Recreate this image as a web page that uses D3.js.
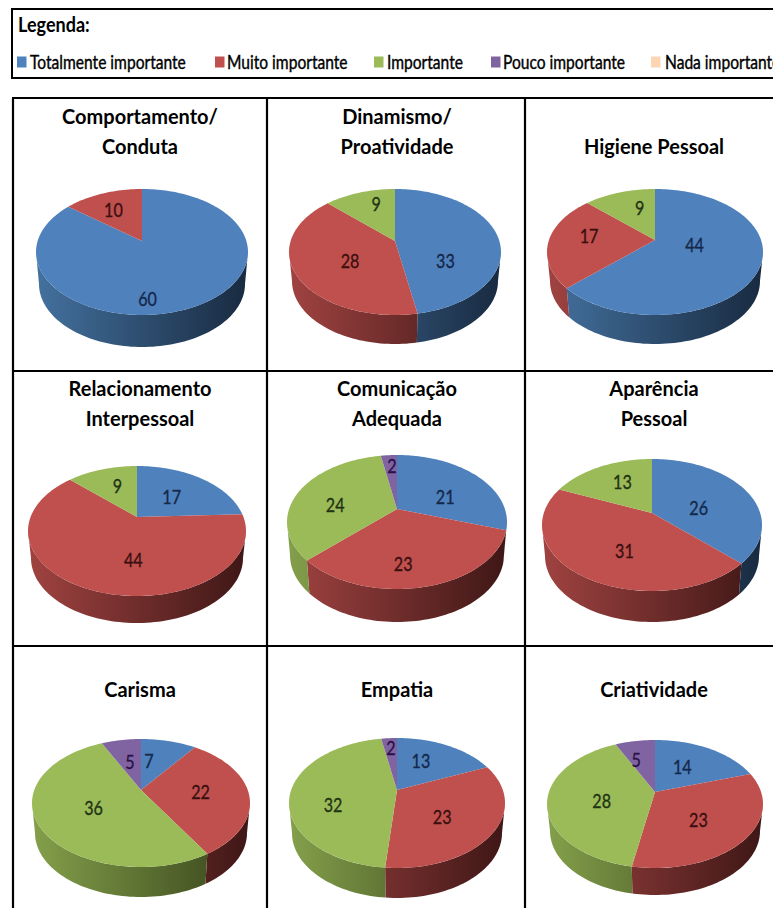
<!DOCTYPE html>
<html lang="pt">
<head>
<meta charset="utf-8">
<title>Grau de importância das competências</title>
<script src="https://cdn.jsdelivr.net/npm/d3@7"></script>
<style>
  html, body { margin: 0; padding: 0; background: #fff; overflow: hidden; }
  svg { display: block; font-family: Lato, "Open Sans", sans-serif; }
</style>
</head>
<body>
<svg id="chart" width="773" height="908"></svg>
<script>
// Answer levels, in the order used by every pie
const levels = ["Totalmente importante", "Muito importante", "Importante", "Pouco importante", "Nada importante"];

// Competence titles, one entry per line
const titles = [
  ["Comportamento/", "Conduta"], ["Dinamismo/", "Proatividade"], ["Higiene Pessoal"],
  ["Relacionamento", "Interpessoal"], ["Comunicação", "Adequada"], ["Aparência", "Pessoal"],
  ["Carisma"], ["Empatia"], ["Criatividade"]
];

// Number of answers per level; zero levels carry no slice or label
const totalmenteImportante = [60, 33, 44, 17, 21, 26, 7, 13, 14];
const muitoImportante      = [10, 28, 17, 44, 23, 31, 22, 23, 23];
const importante           = [0, 9, 9, 9, 24, 13, 36, 32, 28];
const poucoImportante      = [0, 0, 0, 0, 2, 0, 5, 2, 5];
const nadaImportante       = [0, 0, 0, 0, 0, 0, 0, 0, 0];
const series = [totalmenteImportante, muitoImportante, importante, poucoImportante, nadaImportante];

// Palette
const topColors  = ["#4f81bd", "#c0504d", "#9bbb59", "#8064a2", "#fcd5b5"];
const wallLeft   = ["#44719f", "#a04341", "#84a04b", "#6b5488", "#d8b69b"];
const wallRight  = ["#182a40", "#3e1716", "#364219", "#2c1f3d", "#6e5a4a"];
const labelInk   = ["#14284a", "#3a0f10", "#1f3313", "#2a1045", "#333333"];

// Pie geometry: ellipse centre and radii, projected disc centre (apex) and wall depth
const pieLayout = [
  { cx: 142, cy: 252, rx: 106, ry: 63, apex: 241, depth: 32 },
  { cx: 395, cy: 252, rx: 106, ry: 63, apex: 241, depth: 29 },
  { cx: 655, cy: 252, rx: 108, ry: 63, apex: 240, depth: 29 },
  { cx: 137, cy: 531, rx: 109, ry: 65, apex: 517, depth: 27 },
  { cx: 397, cy: 522, rx: 110, ry: 67, apex: 509, depth: 33 },
  { cx: 652, cy: 525, rx: 110, ry: 66, apex: 513, depth: 31 },
  { cx: 141, cy: 803, rx: 109, ry: 64, apex: 790, depth: 30 },
  { cx: 397, cy: 803, rx: 108, ry: 65, apex: 790, depth: 30 },
  { cx: 655, cy: 804, rx: 108, ry: 64, apex: 792, depth: 27 }
];

// Hand placement of the value labels relative to the slice middle
const labelNudge = [
  [[-23, 16], [0, -3]],
  [[-15, 17], [13, -5], [7, -8]],
  [[-22, -18], [1, -11], [11, -4]],
  [[-12, 0], [20, -3], [7, -3]],
  [[-7, 4], [-9, 6], [3, 1], [1, -10]],
  [[-16, 4], [10, -4], [8, -4]],
  [[-13, 1], [-8, -8], [12, -9], [4, 3]],
  [[-13, -3], [-9, -5], [3, 5], [0, -10]],
  [[-12, 0], [-7, -6], [13, -4], [-4, -1]]
];

// Table frame and title rows
const columnRules = [13, 267, 525];
const rowRules = [98, 371, 646];
const columnCentres = [140, 397, 654];
const titleLines = [[118, 148], [390, 420], [691, 691]];

// Legend placement
const swatchX = [17, 215, 374, 491, 651];
const legendTextX = [30, 227, 387, 503, 665];

const svg = d3.select("#chart");
const defs = svg.append("defs");
const pie = d3.pie().sort(null).value(d => d.value);

// ---- Legend ----
svg.append("rect").attr("x", 12).attr("y", 9).attr("width", 780).attr("height", 69)
  .attr("fill", "#fff").attr("stroke", "#000").attr("stroke-width", 2);
svg.append("text")
  .attr("transform", "translate(18,32) scale(0.95,1.08)")
  .attr("font-size", 19).attr("font-weight", 700).text("Legenda:");
const legend = svg.append("g");
levels.forEach((name, i) => {
  legend.append("rect").attr("x", swatchX[i]).attr("y", 56.5)
    .attr("width", 9.5).attr("height", 11).attr("fill", topColors[i]);
  legend.append("text")
    .attr("transform", `translate(${legendTextX[i]},69) scale(0.945,1.12)`)
    .attr("font-size", 16.5).attr("font-weight", 400)
    .attr("stroke", "#000").attr("stroke-width", 0.35)
    .text(name);
});

// ---- Table rules ----
const rules = svg.append("g").attr("stroke", "#000").attr("stroke-width", 2.2);
columnRules.forEach(x => rules.append("line").attr("x1", x).attr("x2", x).attr("y1", 98).attr("y2", 908));
rowRules.forEach(y => rules.append("line").attr("x1", 12).attr("x2", 773).attr("y1", y).attr("y2", y));

// ---- Pies ----
// A tilted disc: angles are true disc angles, projected so that the disc centre
// lands on the apex while the rim stays on the drawn ellipse
const projection = g => {
  const a = g.apex - (g.cy - g.ry), b = g.cy + g.ry - g.apex;
  const w = (b - a) / (b + a);
  const B = 2 * a * b / (a + b);
  const k = Math.sqrt(1 - w * w);
  return (t, rx = g.rx, dy = 0) => {
    const den = 1 + w * Math.cos(t);
    return [g.cx + rx * k * Math.sin(t) / den, g.apex + dy - B * Math.cos(t) / den];
  };
};
const horizon = g => {
  const a = g.apex - (g.cy - g.ry), b = g.cy + g.ry - g.apex;
  return Math.acos(-(b - a) / (b + a));
};
const rimPoints = (a0, a1, at) => {
  const n = Math.max(2, Math.ceil(Math.abs(a1 - a0) / 0.03));
  return d3.range(n + 1).map(i => at(a0 + (a1 - a0) * i / n));
};
const outline = d3.line();

titles.forEach((lines, p) => {
  const g = pieLayout[p];
  const project = projection(g);
  const front = horizon(g);
  const slices = pie(series.map((s, i) => ({ level: i, value: s[p] })).filter(d => d.value > 0));
  const node = svg.append("g").attr("class", "pie");

  // Side wall: only the front part of the rim shows
  slices.forEach(s => {
    const a0 = Math.max(s.startAngle, front);
    const a1 = Math.min(s.endAngle, 2 * Math.PI - front);
    if (a1 <= a0) return;
    const id = `wall-${p}-${s.data.level}`;
    const grad = defs.append("linearGradient").attr("id", id).attr("gradientUnits", "userSpaceOnUse")
      .attr("x1", g.cx - g.rx).attr("x2", g.cx + g.rx).attr("y1", 0).attr("y2", 0);
    grad.append("stop").attr("offset", 0).attr("stop-color", wallLeft[s.data.level]);
    grad.append("stop").attr("offset", 1).attr("stop-color", wallRight[s.data.level]);
    const upper = rimPoints(a0, a1, t => project(t));
    const lower = rimPoints(a1, a0, t => project(t, g.rx - 3, g.depth));
    node.append("path").attr("d", outline(upper.concat(lower)) + "Z").attr("fill", `url(#${id})`);
  });

  // Top face: each slice runs from the apex out to the rim
  slices.forEach(s => {
    const pts = [[g.cx, g.apex]].concat(rimPoints(s.startAngle, s.endAngle, t => project(t)));
    node.append("path").attr("d", outline(pts) + "Z").attr("fill", topColors[s.data.level]);
  });

  // Value labels
  slices.forEach((s, i) => {
    const mid = (s.startAngle + s.endAngle) / 2;
    const rimY = g.cy - g.ry * Math.cos(mid);
    const x = g.cx + 0.62 * g.rx * Math.sin(mid) + labelNudge[p][i][0];
    const y = g.apex + 0.62 * (rimY - g.apex) + labelNudge[p][i][1];
    node.append("text")
      .attr("transform", `translate(${x},${y + 7}) scale(0.95,1.12)`)
      .attr("text-anchor", "middle").attr("font-size", 17)
      .attr("fill", labelInk[s.data.level])
      .attr("stroke", labelInk[s.data.level]).attr("stroke-width", 0.3)
      .text(s.data.value);
  });

  // Title, one or two lines centred in the cell
  const col = p % 3, row = Math.floor(p / 3);
  lines.forEach((line, j) => {
    const y = lines.length === 1 ? titleLines[row][1] : titleLines[row][j];
    svg.append("text")
      .attr("transform", `translate(${columnCentres[col]},${y + 6}) scale(1,1.06)`)
      .attr("text-anchor", "middle").attr("font-size", 20).attr("font-weight", 700)
      .text(line);
  });
});
</script>
</body>
</html>
